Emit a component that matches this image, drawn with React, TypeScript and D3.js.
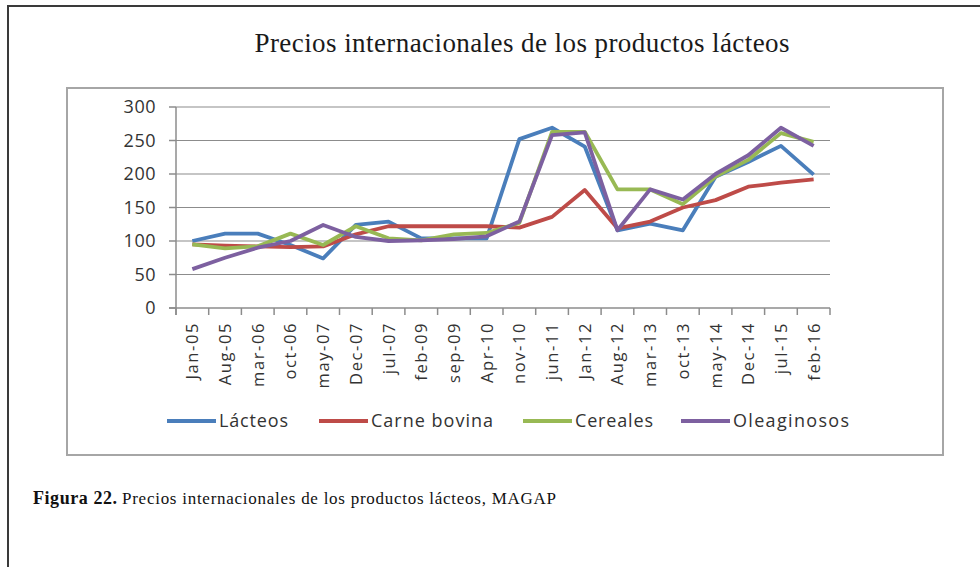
import React from "react";
import * as d3 from "d3";

const categories = [
  "Jan-05", "Aug-05", "mar-06", "oct-06", "may-07", "Dec-07", "jul-07",
  "feb-09", "sep-09", "Apr-10", "nov-10", "jun-11", "Jan-12", "Aug-12",
  "mar-13", "oct-13", "may-14", "Dec-14", "jul-15", "feb-16",
];
const lacteos = [100, 111, 111, 94, 74, 124, 129, 104, 104, 104, 252, 269, 241, 116, 126, 116, 196, 218, 242, 199];
const carneBovina = [95, 93, 92, 91, 92, 110, 122, 122, 122, 122, 120, 136, 176, 119, 129, 150, 161, 181, 187, 192];
const cereales = [95, 89, 92, 111, 94, 122, 104, 101, 110, 112, 127, 263, 263, 177, 177, 155, 196, 221, 261, 248];
const oleaginosos = [58, 75, 90, 100, 124, 106, 100, 101, 103, 107, 129, 258, 262, 116, 177, 162, 200, 228, 269, 242];
const yTicks = [0, 50, 100, 150, 200, 250, 300];

const seriesNames = ["Lácteos", "Carne bovina", "Cereales", "Oleaginosos"];
const seriesValues = [lacteos, carneBovina, cereales, oleaginosos];
const colors = ["#4a7ebb", "#be4b48", "#98b954", "#7d60a0"];

const sans = "'Open Sans', 'Noto Sans', sans-serif";
const serif = "'Liberation Serif', 'DejaVu Serif', serif";

const App = () => {
  const width = 980;
  const height = 567;
  const left = 176;
  const right = 830;
  const top = 107;
  const bottom = 308;

  const x = d3.scaleBand().domain(categories).range([left, right]);
  const y = d3.scaleLinear().domain([0, 300]).range([bottom, top]);
  const cx = (c: string) => (x(c) as number) + x.bandwidth() / 2;

  const line = d3
    .line<number>()
    .x((_, i) => cx(categories[i]))
    .y((d) => y(d));

  const tickXs = categories.map((c) => x(c) as number).concat([right]);

  const legendLineX = [167, 319, 523, 681];
  const legendTextW = [69, 122, 78, 116];

  return (
    <svg
      width={width}
      height={height}
      style={{ position: "absolute", left: 0, top: 0, background: "#fff" }}
    >
      <rect x={8} y={6} width={1000} height={600} fill="#fff" stroke="#3a3a3a" strokeWidth={2} />
      <rect x={67} y={88} width={876} height={367} fill="#fff" stroke="#a6a6a6" strokeWidth={2} />

      <text
        x={522}
        y={52}
        textAnchor="middle"
        fontFamily={serif}
        fontSize={27}
        fill="#1a1a1a"
        textLength={535}
        lengthAdjust="spacing"
      >
        Precios internacionales  de los productos lácteos
      </text>

      {yTicks.slice(1).map((t) => (
        <line key={t} x1={left} x2={right} y1={y(t)} y2={y(t)} stroke="#8c8c8c" strokeWidth={1.2} />
      ))}
      <line x1={left} x2={left} y1={top} y2={bottom + 7} stroke="#8c8c8c" strokeWidth={1.5} />
      <line x1={left - 7} x2={right} y1={bottom} y2={bottom} stroke="#8c8c8c" strokeWidth={1.5} />
      {yTicks.map((t) => (
        <g key={t}>
          <line x1={left - 7} x2={left} y1={y(t)} y2={y(t)} stroke="#8c8c8c" strokeWidth={1.5} />
          <text
            x={156}
            y={y(t)}
            dy="0.36em"
            textAnchor="end"
            fontFamily={sans}
            fontSize={18}
            letterSpacing={0.5}
            fill="#333"
          >
            {t}
          </text>
        </g>
      ))}
      {tickXs.map((tx, i) => (
        <line key={i} x1={tx} x2={tx} y1={bottom} y2={bottom + 7} stroke="#8c8c8c" strokeWidth={1.5} />
      ))}
      {categories.map((c) => (
        <text
          key={c}
          transform={`translate(${cx(c) + 6},${bottom + 14}) rotate(-90)`}
          textAnchor="end"
          fontFamily={sans}
          fontSize={16.5}
          letterSpacing={1.6}
          fill="#333"
        >
          {c}
        </text>
      ))}

      {seriesValues.map((vals, i) => (
        <path
          key={seriesNames[i]}
          d={line(vals) || ""}
          fill="none"
          stroke={colors[i]}
          strokeWidth={3.8}
          strokeLinejoin="round"
        />
      ))}

      {seriesNames.map((name, i) => (
        <g key={name}>
          <line
            x1={legendLineX[i]}
            x2={legendLineX[i] + 49}
            y1={421}
            y2={421}
            stroke={colors[i]}
            strokeWidth={3.8}
          />
          <text
            x={legendLineX[i] + 52}
            y={421}
            dy="0.36em"
            fontFamily={sans}
            fontSize={18}
            fill="#333"
            textLength={legendTextW[i]}
            lengthAdjust="spacing"
          >
            {name}
          </text>
        </g>
      ))}

      <text x={33} y={504} fontFamily={serif} fill="#111">
        <tspan fontWeight="bold" fontSize={18} textLength={84} lengthAdjust="spacing">
          Figura 22.
        </tspan>
        <tspan x={122} fontSize={17} textLength={434} lengthAdjust="spacing">
          Precios internacionales de los productos lácteos, MAGAP
        </tspan>
      </text>
    </svg>
  );
};

export default App;
